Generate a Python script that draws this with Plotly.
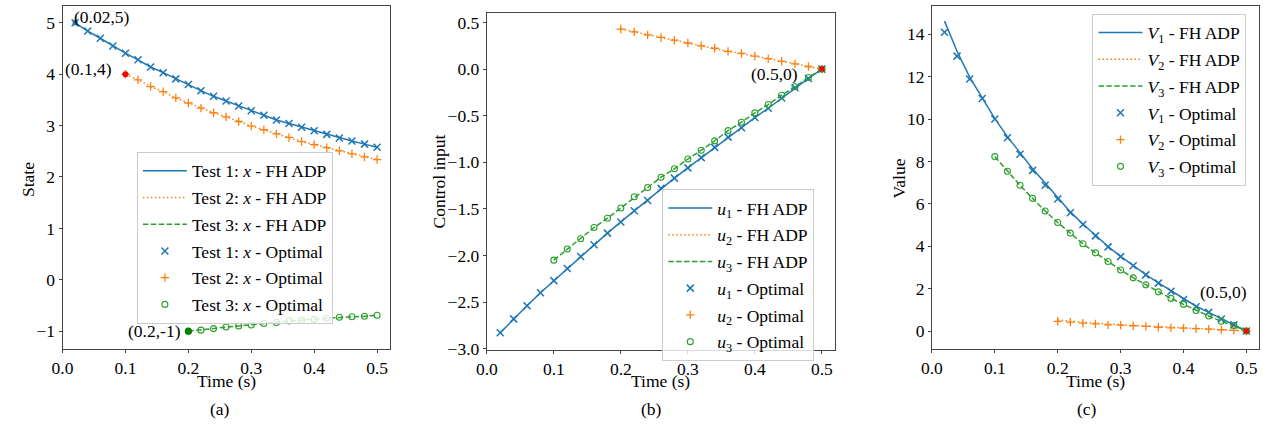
import plotly.graph_objects as go

# ---------------- data ----------------
t_a1 = [0.02, 0.04, 0.06, 0.08, 0.10, 0.12, 0.14, 0.16, 0.18, 0.20, 0.22, 0.24, 0.26,
        0.28, 0.30, 0.32, 0.34, 0.36, 0.38, 0.40, 0.42, 0.44, 0.46, 0.48, 0.50]
t_a2 = [0.10, 0.12, 0.14, 0.16, 0.18, 0.20, 0.22, 0.24, 0.26, 0.28, 0.30, 0.32, 0.34,
        0.36, 0.38, 0.40, 0.42, 0.44, 0.46, 0.48, 0.50]
t_a3 = [0.20, 0.22, 0.24, 0.26, 0.28, 0.30, 0.32, 0.34, 0.36, 0.38, 0.40, 0.42, 0.44,
        0.46, 0.48, 0.50]

# (a) state
x1 = [5.00, 4.84, 4.70, 4.55, 4.41, 4.28, 4.14, 4.03, 3.91, 3.80, 3.68, 3.57, 3.48,
      3.38, 3.29, 3.20, 3.11, 3.04, 2.97, 2.90, 2.83, 2.76, 2.70, 2.64, 2.58]
x2 = [4.00, 3.89, 3.76, 3.66, 3.54, 3.44, 3.34, 3.25, 3.17, 3.08, 2.99, 2.92, 2.84,
      2.77, 2.69, 2.63, 2.57, 2.51, 2.45, 2.39, 2.34]
x3 = [-1.00, -0.98, -0.95, -0.92, -0.90, -0.88, -0.85, -0.83, -0.80, -0.79, -0.77,
      -0.75, -0.73, -0.72, -0.71, -0.69]

# (b) control input
u1 = [-2.83, -2.68, -2.54, -2.40, -2.27, -2.14, -2.01, -1.885, -1.76, -1.64, -1.52,
      -1.41, -1.28, -1.17, -1.06, -0.95, -0.84, -0.73, -0.63, -0.52, -0.42, -0.31,
      -0.20, -0.10, 0.00]
u2 = [0.43, 0.40, 0.367, 0.34, 0.31, 0.28, 0.25, 0.224, 0.19, 0.168, 0.14, 0.112,
      0.084, 0.056, 0.028, 0.00]
u3 = [-2.05, -1.93, -1.82, -1.70, -1.60, -1.49, -1.37, -1.27, -1.16, -1.07, -0.965,
      -0.87, -0.77, -0.66, -0.57, -0.47, -0.38, -0.28, -0.19, -0.09, 0.00]

# (c) value
v1_adp = [14.62, 13.20, 11.98, 10.98, 10.02, 9.17, 8.40, 7.66, 6.98, 6.28, 5.62,
          5.05, 4.50, 3.99, 3.52, 3.08, 2.66, 2.27, 1.89, 1.51, 1.17, 0.88, 0.58,
          0.30, 0.00]
v1_opt = [14.10, 12.97, 11.89, 10.97, 10.00, 9.12, 8.34, 7.58, 6.88, 6.23, 5.58,
          5.03, 4.49, 3.97, 3.51, 3.08, 2.65, 2.26, 1.88, 1.49, 1.15, 0.88, 0.57,
          0.29, 0.00]
v2_adp = [0.52, 0.46, 0.41, 0.37, 0.33, 0.30, 0.27, 0.24, 0.20, 0.17, 0.14, 0.11,
          0.09, 0.06, 0.03, 0.00]
v2_opt = [0.46, 0.42, 0.37, 0.34, 0.29, 0.28, 0.25, 0.22, 0.18, 0.15, 0.14, 0.11,
          0.09, 0.06, 0.03, 0.00]
v3 = [8.23, 7.54, 6.88, 6.26, 5.66, 5.12, 4.62, 4.12, 3.69, 3.28, 2.88, 2.51, 2.18,
      1.85, 1.54, 1.26, 0.97, 0.71, 0.46, 0.26, 0.00]

x_ticks = [0.0, 0.1, 0.2, 0.3, 0.4, 0.5]
ya_ticks = [-1, 0, 1, 2, 3, 4, 5]
yb_ticks = [-3.0, -2.5, -2.0, -1.5, -1.0, -0.5, 0.0, 0.5]
yc_ticks = [0, 2, 4, 6, 8, 10, 12, 14]

# ---------------- style ----------------
W, H = 1263, 435
FONT = "Liberation Serif"
FS = 17.5
BLUE, ORANGE, GREEN = "#1f77b4", "#ff7f0e", "#2ca02c"
AXC = "#444444"
DASH = "5.5px,2.4px"
DOT = "1.5px,2.5px"


def px(xp):
    return min(1.0, max(0.0, xp / W))


def py(yp):
    return min(1.0, max(0.0, 1 - yp / H))


fig = go.Figure()


def add_panel(xa, ya, leg, series_lines, series_marks):
    for (t, y, name, color, dash) in series_lines:
        fig.add_trace(go.Scatter(x=t, y=y, mode="lines", name=name,
                                 line=dict(color=color, width=1.5, dash=dash),
                                 xaxis=xa, yaxis=ya, legend=leg,
                                 legendgroup=leg + name))
    for (t, y, name, color, sym, size, lw) in series_marks:
        fig.add_trace(go.Scatter(x=t, y=y, mode="markers", name=name,
                                 marker=dict(symbol=sym, size=size, color=color,
                                             line=dict(color=color, width=lw)),
                                 xaxis=xa, yaxis=ya, legend=leg,
                                 legendgroup=leg + name))


ix = "<i>x</i>"
add_panel("x", "y", "legend",
          [(t_a1, x1, f"Test 1: {ix} - FH ADP", BLUE, "solid"),
           (t_a2, x2, f"Test 2: {ix} - FH ADP", ORANGE, DOT),
           (t_a3, x3, f"Test 3: {ix} - FH ADP", GREEN, DASH)],
          [(t_a1, x1, f"Test 1: {ix} - Optimal", BLUE, "x-thin-open", 7, 1.5),
           (t_a2, x2, f"Test 2: {ix} - Optimal", ORANGE, "cross-thin-open", 6, 1.3),
           (t_a3, x3, f"Test 3: {ix} - Optimal", GREEN, "circle-open", 6, 1.1)])

add_panel("x2", "y2", "legend2",
          [(t_a1, u1, "<i>u</i><sub>1</sub> - FH ADP", BLUE, "solid"),
           (t_a3, u2, "<i>u</i><sub>2</sub> - FH ADP", ORANGE, DOT),
           (t_a2, u3, "<i>u</i><sub>3</sub> - FH ADP", GREEN, DASH)],
          [(t_a1, u1, "<i>u</i><sub>1</sub> - Optimal", BLUE, "x-thin-open", 7, 1.5),
           (t_a3, u2, "<i>u</i><sub>2</sub> - Optimal", ORANGE, "cross-thin-open", 6, 1.3),
           (t_a2, u3, "<i>u</i><sub>3</sub> - Optimal", GREEN, "circle-open", 6, 1.1)])

add_panel("x3", "y3", "legend3",
          [(t_a1, v1_adp, "<i>V</i><sub>1</sub> - FH ADP", BLUE, "solid"),
           (t_a3, v2_adp, "<i>V</i><sub>2</sub> - FH ADP", ORANGE, DOT),
           (t_a2, v3, "<i>V</i><sub>3</sub> - FH ADP", GREEN, DASH)],
          [(t_a1, v1_opt, "<i>V</i><sub>1</sub> - Optimal", BLUE, "x-thin-open", 7, 1.5),
           (t_a3, v2_opt, "<i>V</i><sub>2</sub> - Optimal", ORANGE, "cross-thin-open", 6, 1.3),
           (t_a2, v3, "<i>V</i><sub>3</sub> - Optimal", GREEN, "circle-open", 6, 1.1)])

# highlighted initial / terminal points
special = [
    ("x", "y", t_a1[0], x1[0], BLUE, "square", 5),
    ("x", "y", t_a2[0], x2[0], "red", "circle", 6),
    ("x", "y", t_a3[0], x3[0], "green", "circle", 7),
    ("x2", "y2", t_a1[-1], u1[-1], "red", "square", 5),
    ("x3", "y3", t_a1[-1], v1_opt[-1], "red", "square", 5),
]
for xa, ya, xv, yv, c, s, sz in special:
    fig.add_trace(go.Scatter(x=[xv], y=[yv], mode="markers", showlegend=False,
                             marker=dict(color=c, symbol=s, size=sz),
                             xaxis=xa, yaxis=ya))

# ---------------- axes ----------------
axis_common = dict(showline=True, mirror=True, linecolor=AXC, linewidth=1,
                   ticks="outside", ticklen=3, tickcolor=AXC, showgrid=False,
                   zeroline=False, tickfont=dict(family=FONT, size=FS, color="black"))
xax = dict(range=[0.0, 0.52], tickvals=x_ticks, tickformat=".1f", **axis_common)

fig.update_layout(
    xaxis=dict(domain=[px(52), px(382)], anchor="y", **xax),
    yaxis=dict(domain=[py(356), py(6)], range=[-1.34, 5.33], tickvals=ya_ticks,
               anchor="x", **axis_common),
    xaxis2=dict(domain=[px(480), px(831.5)], anchor="y2", **xax),
    yaxis2=dict(domain=[py(357), py(13)], range=[-3.01, 0.605], tickvals=yb_ticks,
                tickformat=".1f", anchor="x2", **axis_common),
    xaxis3=dict(domain=[px(929), px(1259)], anchor="y3", **xax),
    yaxis3=dict(domain=[py(356), py(6)], range=[-0.83, 15.34], tickvals=yc_ticks,
                anchor="x3", **axis_common),
)

legend_common = dict(font=dict(family=FONT, size=FS, color="black"),
                     bgcolor="rgba(255,255,255,0.8)", bordercolor="#cccccc",
                     borderwidth=1, xanchor="left", yanchor="top",
                     traceorder="grouped", tracegroupgap=1, itemwidth=44)
fig.update_layout(
    legend=dict(x=px(127), y=py(155), **legend_common),
    legend2=dict(x=px(657), y=py(193), **legend_common),
    legend3=dict(x=px(1091), y=py(14), **legend_common),
)

# ---------------- text ----------------
ann = []


def txt(x, y, s, **kw):
    d = dict(x=x, y=y, text=s, showarrow=False,
             font=dict(family=FONT, size=FS, color="black"))
    d.update(kw)
    ann.append(d)


P = dict(xref="paper", yref="paper", xanchor="center", yanchor="middle")
txt(px(217), py(389), "Time (s)", **P)
txt(px(655), py(389), "Time (s)", **P)
txt(px(1094), py(389), "Time (s)", **P)
txt(px(211), py(418), "(a)", **P)
txt(px(646), py(418), "(b)", **P)
txt(px(1085), py(418), "(c)", **P)
txt(px(17), py(183), "State", textangle=-90, **P)
txt(px(432), py(185), "Control input", textangle=-90, **P)
txt(px(896), py(182), "Value", textangle=-90, **P)

# point annotations (data coords)
txt(t_a1[0], x1[0], "(0.02,5)", xref="x", yref="y", xanchor="left", yanchor="middle", xshift=-3, yshift=6)
txt(t_a2[0], x2[0], "(0.1,4)", xref="x", yref="y", xanchor="right", yanchor="middle", xshift=-11, yshift=5)
txt(t_a3[0], x3[0], "(0.2,-1)", xref="x", yref="y", xanchor="right", yanchor="middle", xshift=-5, yshift=0)
txt(t_a1[-1], u1[-1], "(0.5,0)", xref="x2", yref="y2", xanchor="right", yanchor="middle", xshift=-22, yshift=-5)
txt(t_a1[-1], v1_opt[-1], "(0.5,0)", xref="x3", yref="y3", xanchor="right", yanchor="middle", xshift=3, yshift=39)

fig.update_layout(annotations=ann, width=W, height=H, autosize=False,
                  margin=dict(l=0, r=0, t=0, b=0),
                  paper_bgcolor="white", plot_bgcolor="white",
                  font=dict(family=FONT, size=FS, color="black"))

# remove the default page margin so the figure sits at the window origin
fig.write_html("out.html",
               config={"displayModeBar": False, "responsive": False},
               post_script="document.body.style.margin='0';"
                           "document.body.style.overflow='hidden';")
